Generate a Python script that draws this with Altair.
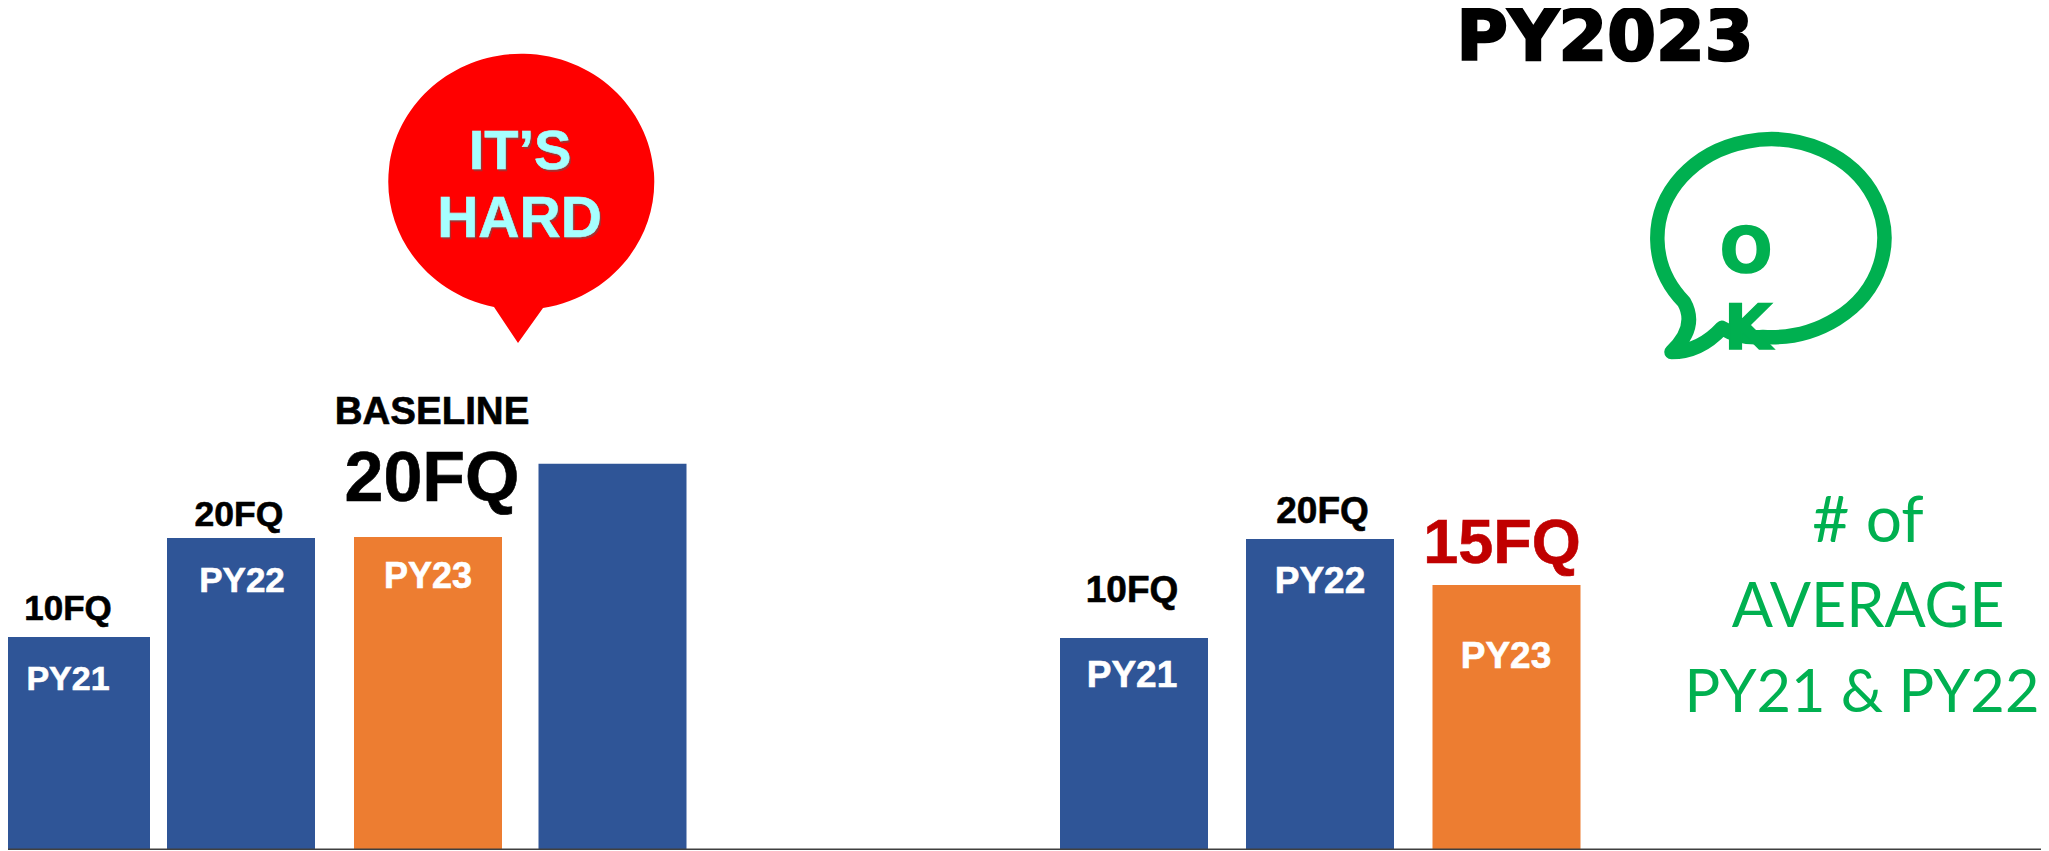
import altair as alt
import pandas as pd

# ---- chart values ----
bar_names = ["PY21", "PY22", "PY23", "Extra", "PY21 ", "PY22 ", "PY23 "]
bar_values = [10.1, 20.1, 20.2, 27.6, 10, 20, 15.35]
bar_series = ["prior", "prior", "current", "prior", "prior", "prior", "current"]
series_names = ["prior", "current"]
series_colors = ["#2F5597", "#ED7D31"]

# ---- layout (page pixels; the page has an 8px margin) ----
M = 8
W, H = 2033, 842
bar_centres = [76, 241, 428, 612.5, 1134, 1320, 1506.5]
BAR_W = 148
Y_DOMAIN = [-11.41, 73.64]
Y_BASE = -11.33

df = pd.DataFrame({
    "name": bar_names,
    "value": bar_values,
    "series": bar_series,
    "pos": [c - M for c in bar_centres],
    "base": [Y_DOMAIN[0]] * len(bar_names),
})

x_scale = alt.Scale(domain=[0, W], range=[0, W], nice=False, zero=False, padding=0)
y_scale = alt.Scale(domain=Y_DOMAIN, nice=False, zero=False)

bars = alt.Chart(df).mark_bar(width=BAR_W).encode(
    x=alt.X("pos:Q", scale=x_scale, axis=None),
    y=alt.Y("value:Q", scale=y_scale, axis=None),
    y2="base:Q",
    color=alt.Color("series:N", scale=alt.Scale(domain=series_names, range=series_colors), legend=None),
)

baseline = alt.Chart(pd.DataFrame({"b": [Y_BASE]})).mark_rule(color="#404040", strokeWidth=1.5).encode(
    y=alt.Y("b:Q", scale=y_scale, axis=None),
    x=alt.value(0),
    x2=alt.value(W),
)


def label(text, px, py, size, color="#000000", font="Liberation Sans", weight="bold", sw=0.6):
    kw = {"stroke": color, "strokeWidth": sw} if sw else {}
    return alt.Chart(pd.DataFrame({"t": [text]})).mark_text(
        x=px - M, y=py - M, fontSize=size, color=color, font=font, fontWeight=weight,
        align="center", baseline="alphabetic", **kw
    ).encode(text="t:N")


def shape(path, px, py, **kw):
    return alt.Chart(pd.DataFrame({"p": [1]})).mark_point(
        shape=path, size=4, opacity=1, **kw
    ).encode(x=alt.value(px - M), y=alt.value(py - M))


red_path = "M-24,126 A133,128 0 1 1 25,127 L0,162 Z"
green_path = ("M-7,98 A113.5,99 0 1 0 -86,63 Q-72,88 -98.5,113 Q-70,113 -48,89 Q-30,100 -7,98")

red_bubble = shape(red_path, 518, 181, filled=True, fill="#FF0000", stroke="#FF0000", strokeWidth=0)
green_bubble = shape(green_path, 1770, 239, filled=False, stroke="#00B050", strokeWidth=14.5,
                     strokeJoin="round", strokeCap="round")

GREEN = "#00B050"
CYAN = "#A6FFFF"
SHADOW = "#A83030"

texts = [
    label("10FQ", 68, 620, 35),
    label("20FQ", 239, 526, 35.5),
    label("BASELINE", 432, 424, 38.5),
    label("20FQ", 432, 501, 70),
    label("PY21", 68, 690, 34, "#FFFFFF"),
    label("PY22", 242, 592, 35, "#FFFFFF"),
    label("PY23", 428, 588, 36, "#FFFFFF"),
    label("10FQ", 1132, 602, 37),
    label("20FQ", 1322.5, 523, 37),
    label("15FQ", 1502, 563, 63, "#C00000"),
    label("PY21", 1132, 687, 37, "#FFFFFF"),
    label("PY22", 1320, 593, 37, "#FFFFFF"),
    label("PY23", 1506, 668, 37, "#FFFFFF"),
    label("# of", 1868, 542, 64, GREEN, "Lato", "normal", 0),
    label("AVERAGE", 1868, 627, 61, GREEN, "Lato", "normal", 0),
    label("PY21 & PY22", 1862, 712, 59.5, GREEN, "Lato", "normal", 0),
    label("PY2023", 1605, 60, 70, "#000000", "DejaVu Sans", "bold", 2.5),
    label("O", 1746, 272, 62, GREEN, "DejaVu Sans", "bold", 1.5),
    label("K", 1748, 349, 62, GREEN, "DejaVu Sans", "bold", 1.5),
    label("IT\u2019S", 521.5, 170.5, 56, SHADOW, sw=0.6),
    label("HARD", 521, 238.5, 57, SHADOW, sw=0.6),
    label("IT\u2019S", 520, 169, 56, CYAN, sw=0.6),
    label("HARD", 519.5, 237, 57, CYAN, sw=0.6),
]

chart = alt.layer(bars, baseline, red_bubble, green_bubble, *texts).properties(
    width=W, height=H, padding=0, autosize=alt.AutoSizeParams(type="none"), background="white",
).configure_view(stroke=None)

chart.save("out.html", embed_options={"renderer": "svg", "actions": False})
